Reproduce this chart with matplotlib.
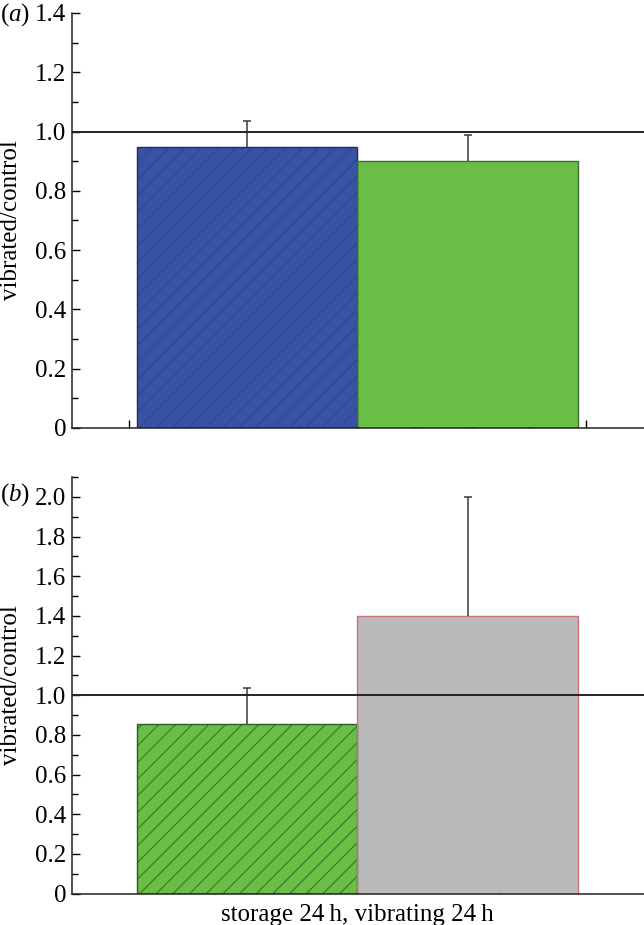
import matplotlib
matplotlib.use("Agg")
import matplotlib.pyplot as plt
from matplotlib.ticker import MultipleLocator, NullFormatter

plt.rcParams['font.family'] = ['Liberation Serif', 'DejaVu Serif']
plt.rcParams['mathtext.fontset'] = 'custom'
plt.rcParams['mathtext.rm'] = 'Liberation Serif'
plt.rcParams['mathtext.it'] = 'Liberation Serif:italic'
plt.rcParams['hatch.linewidth'] = 0.8

# ---- data ----
a_values = [0.949, 0.90]
a_errors = [0.088, 0.088]
a_colors = ['#3953a4', '#6abd45']
a_hatch_colors = ['#2d4596', '#6abd45']
a_edges = ['#1c2a66', '#3e6e33']
a_hatches = ['//', '']

b_values = [0.853, 1.40]
b_errors = [0.185, 0.60]
b_colors = ['#6abd45', '#bababa']
b_hatch_colors = ['#2e7a2a', '#bababa']
b_edges = ['#2e5a28', '#d0707a']
b_hatches = ['//', '']

bar_pos = [1.035, 2.965]
bar_width = 1.93
xlabel_b = "storage 24\u2009h, vibrating 24\u2009h"
ylabel = "vibrated/control"

FS = 18
W, H = 644, 925
fig = plt.figure(figsize=(W / 100, H / 100), dpi=100)

def px_axes(left, top, right, bottom):
    return fig.add_axes([left / W, 1 - bottom / H, (right - left) / W, (bottom - top) / H])

ax_a = px_axes(72, 13, 644, 428)
ax_b = px_axes(72, 477, 644, 893.5)

def draw(ax, values, errors, colors, hcolors, edges, hatches, ymax, major, minor):
    for x, v, e, c, hc, ec, h in zip(bar_pos, values, errors, colors, hcolors, edges, hatches):
        ax.bar(x, v, width=bar_width, color=c, edgecolor=hc, hatch=h, linewidth=0, zorder=2)
        ax.bar(x, v, width=bar_width, fill=False, edgecolor=ec, linewidth=1.0, zorder=3)
        ax.vlines(x, v, v + e, color='#3a3a3a', lw=1.1, zorder=4)
        ax.plot([x], [v + e], marker='_', ms=6, mew=1.1, color='#3a3a3a', zorder=4)
    ax.axhline(1.0, color='#222222', lw=1.4, zorder=5)
    ax.set_ylim(0, ymax)
    ax.set_xlim(-0.499, 4.508)
    for s in ['top', 'right']:
        ax.spines[s].set_visible(False)
    for s in ['left', 'bottom']:
        ax.spines[s].set_linewidth(1.1)
        ax.spines[s].set_color('#222222')
        ax.spines[s].set_zorder(6)
    ax.yaxis.set_major_locator(MultipleLocator(major))
    ax.yaxis.set_minor_locator(MultipleLocator(minor))
    ax.tick_params(axis='y', which='major', direction='in', length=6, width=1.0, labelsize=FS, pad=4)
    ax.tick_params(axis='y', which='minor', direction='in', length=4, width=1.0)
    ax.set_ylabel(ylabel, fontsize=FS)
    ax.yaxis.set_label_coords(-50 / 572, 0.5)

draw(ax_a, a_values, a_errors, a_colors, a_hatch_colors, a_edges, a_hatches, 1.4, 0.2, 0.1)
draw(ax_b, b_values, b_errors, b_colors, b_hatch_colors, b_edges, b_hatches, 2.1, 0.2, 0.1)

def fmt(v, pos):
    return '0' if abs(v) < 1e-9 else f'{v:.1f}'

for ax in (ax_a, ax_b):
    ax.yaxis.set_major_formatter(plt.FuncFormatter(fmt))

# x ticks
ax_a.set_xticks([0, 1, 2, 3, 4])
ax_a.set_xticks([0.5, 1.5, 2.5, 3.5], minor=True)
ax_a.tick_params(axis='x', which='major', direction='in', length=6, width=1.0, labelbottom=False)
ax_a.tick_params(axis='x', which='minor', direction='in', length=3, width=1.0)
ax_a.xaxis.set_minor_formatter(NullFormatter())

ax_b.set_xticks([0.75, 2.0, 3.25])
ax_b.set_xticklabels([])
ax_b.tick_params(axis='x', which='major', direction='in', length=3, width=1.0, pad=2)
ax_b.set_xlabel(xlabel_b, fontsize=FS)
ax_b.xaxis.set_label_coords((357 - 72) / 572, -10 / 416.5)

fig.text(0 / W, 1 - 15 / H, r'$(\mathit{a})$', fontsize=FS, va='center', ha='left')
fig.text(0 / W, 1 - 495 / H, r'$(\mathit{b})$', fontsize=FS, va='center', ha='left')

fig.savefig('out.png', dpi=100)
